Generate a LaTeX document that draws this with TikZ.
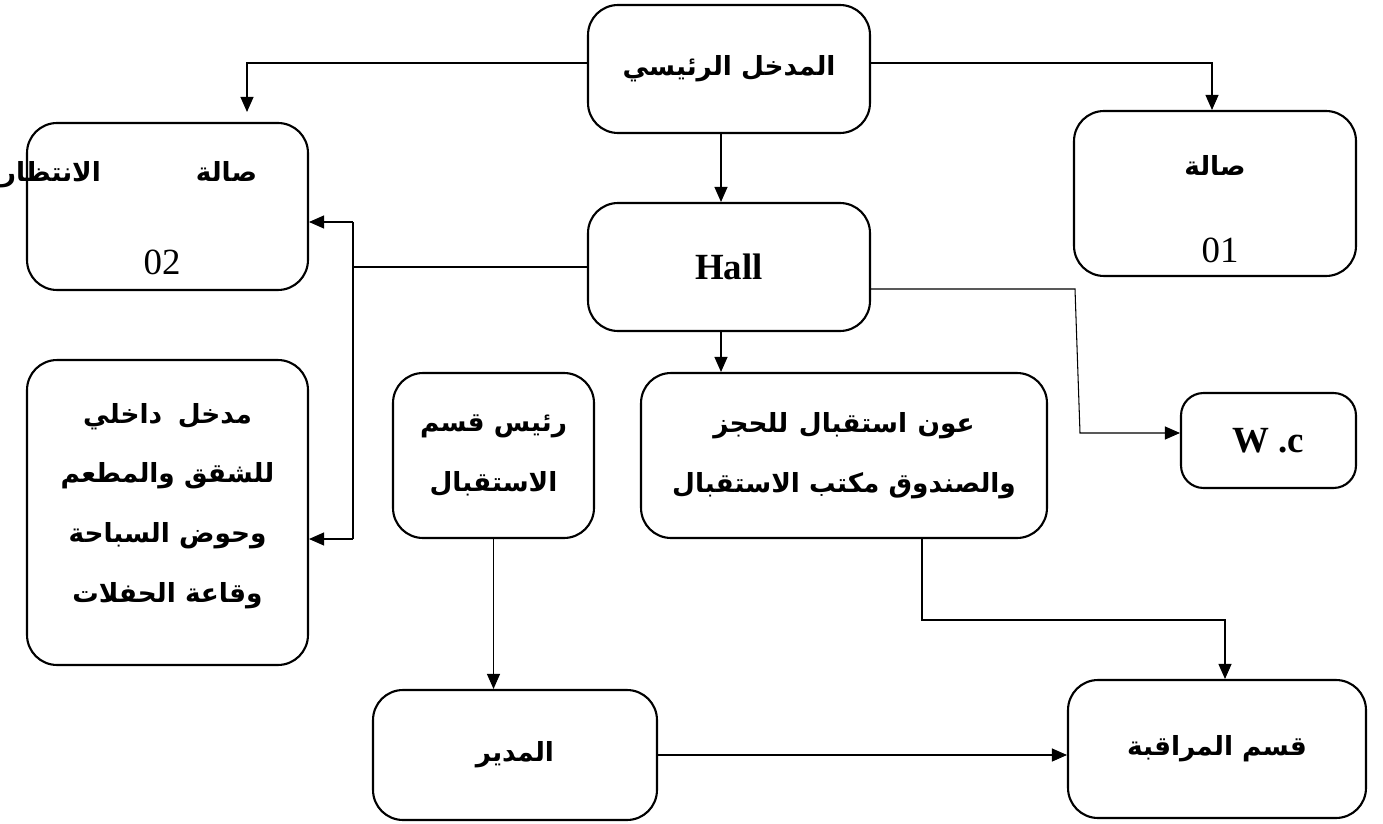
\documentclass[tikz,border=0pt]{standalone}
\usepackage{fontspec}
\setmainfont{Liberation Serif}
\newfontfamily\arabicfont[Script=Arabic]{DejaVu Sans}
\TeXXeTstate=1
\usetikzlibrary{arrows.meta,positioning}

\newcommand{\artxt}[1]{\beginR #1\endR}

\begin{document}
\begin{tikzpicture}[
  x=0.02cm, y=-0.02cm,
  box/.style={rectangle, draw, line width=1.2pt, rounded corners=0.6cm, align=center,
    font=\arabicfont\bfseries\fontsize{15}{34}\selectfont},
  txt/.style={inner sep=0pt, font=\arabicfont\bfseries\fontsize{15}{18}\selectfont},
  num/.style={inner sep=0pt, font=\fontsize{21}{24}\selectfont},
  link/.style={line width=0.6pt},
  >={Triangle[length=0.3cm,width=0.26cm]}
]
\useasboundingbox (0,0) rectangle (1383,824);

% Boxes
\node[box, minimum width=5.64cm, minimum height=2.56cm] (entree) at (729,69) {\artxt{المدخل الرئيسي}};
\node[box, minimum width=5.64cm, minimum height=2.56cm, font=\bfseries\fontsize{21}{24}\selectfont] (hall) at (729,267) {Hall};
\node[box, minimum width=5.62cm, minimum height=3.34cm] (salle02) at (167.5,206.5) {};
\node[txt] (salle02a) at (129,175) {\artxt{صالة\hspace{1.9cm}الانتظار}};
\node[num] (salle02b) at (162,262) {02};
\node[box, minimum width=5.64cm, minimum height=3.30cm] (salle01) at (1215,193.5) {};
\node[txt] (salle01a) at (1215,165) {\artxt{صالة}};
\node[num] (salle01b) at (1220,250) {01};
\node[box, minimum width=5.62cm, minimum height=6.10cm] (interne) at (167.5,512.5)
  {\artxt{مدخل\hspace{0.6em}داخلي}\\ \artxt{للشقق والمطعم}\\ \artxt{وحوض السباحة}\\ \artxt{وقاعة الحفلات}\\[-0.8cm]};
\node[box, minimum width=4.02cm, minimum height=3.30cm] (chef) at (493.5,455.5)
  {\artxt{رئيس قسم}\\ \artxt{الاستقبال}};
\node[box, minimum width=8.12cm, minimum height=3.30cm] (agent) at (844,455.5)
  {\artxt{عون\hspace{0.4em}استقبال\hspace{0.4em}للحجز}\\ \artxt{والصندوق مكتب الاستقبال}};
\node[box, minimum width=3.50cm, minimum height=1.90cm, rounded corners=0.45cm,
  font=\bfseries\fontsize{21}{24}\selectfont] (wc) at (1268.5,440.5) {W .c};
\node[box, minimum width=5.68cm, minimum height=2.60cm] (directeur) at (515,755) {\artxt{المدير}};
\node[box, minimum width=5.96cm, minimum height=2.76cm] (controle) at (1217,749) {\artxt{قسم المراقبة}};

% Bends
\coordinate (busT) at (353,222);
\coordinate (busB) at (353,539);
\coordinate (wcA) at (1075,289);
\coordinate (wcB) at (1080,433);
\coordinate (knee) at (922,620);
\coordinate (mid) at (721,0);

% Connectors
\draw[link,->,shorten >=0.2cm] ([yshift=0.12cm]entree.west) -| (salle02.north -| 247,0);
\draw[link,->] ([yshift=0.12cm]entree.east) -| (salle01.north -| 1212,0);
\draw[link,->] (entree.south -| mid) -- (hall.north -| mid);
\draw[link] (hall.west) -- (hall.west -| busT);
\draw[link] (busT) -- (busB);
\draw[link,->] (busT) -- (salle02.east |- busT);
\draw[link,->] (busB) -- (interne.east |- busB);
\draw[link,->] (hall.east |- wcA) -- (wcA) -- (wcB) -- (wc.west |- wcB);
\draw[link,->] (hall.south -| mid) -- (agent.north -| mid);
\draw[link,->] (chef.south) -- (directeur.north -| chef.south);
\draw[link,->] (agent.south -| knee) -- (knee) -| (controle.north -| 1225,0);
\draw[link,->] (directeur) -- (controle.west |- directeur);

\end{tikzpicture}
\end{document}
